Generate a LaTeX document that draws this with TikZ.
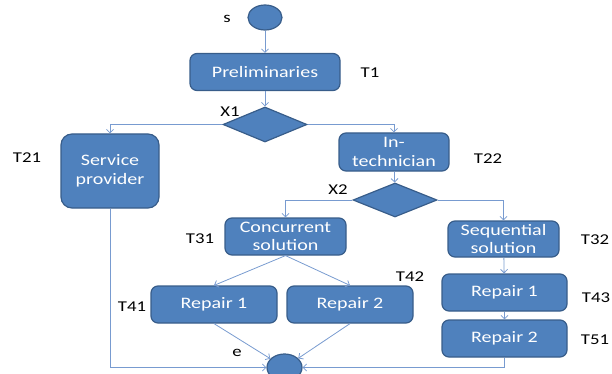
\documentclass[tikz,border=0pt]{standalone}
\usepackage{fontspec}
\setmainfont{Carlito}[FakeStretch=1.25]
\usetikzlibrary{shapes.geometric,arrows.meta}
\definecolor{boxfill}{RGB}{79,129,189}
\definecolor{boxline}{RGB}{56,93,138}
\definecolor{conn}{RGB}{120,155,208}
\tikzset{
  box/.style={draw=boxline, line width=1.2pt, fill=boxfill, rounded corners=7pt,
    text=white, align=center, inner sep=0pt, font=\fontsize{16}{18.5}\selectfont},
  term/.style={draw=boxline, line width=1.2pt, fill=boxfill, ellipse, inner sep=0pt},
  dec/.style={draw=boxline, line width=1.2pt, fill=boxfill, diamond, inner sep=0pt, aspect=2.4},
  lbl/.style={text=black, inner sep=0pt, font=\fontsize{15}{17}\selectfont},
  conn/.style={draw=conn, line width=0.8pt, -{Straight Barb[length=3.5pt,width=7pt]}},
}
\begin{document}
\begin{tikzpicture}[x=1pt,y=-1pt]
\useasboundingbox (0,0) rectangle (612,374);
% nodes
\node[term, minimum width=34pt, minimum height=25pt] (s) at (265,17.5) {};
\node[box, minimum width=150pt, minimum height=37pt] (pre) at (265,72) {Preliminaries};
\node[dec, minimum width=84pt, minimum height=35pt] (x1) at (265,124.5) {};
\node[box, rounded corners=11pt, minimum width=98pt, minimum height=74pt] (sp) at (110,171) {Service\\provider};
\node[box, minimum width=110pt, minimum height=38pt] (it) at (394,152) {In-\\technician};
\node[dec, minimum width=84pt, minimum height=34pt] (x2) at (395,200) {};
\node[box, minimum width=121pt, minimum height=37pt] (cs) at (285.5,236.5) {Concurrent\\solution};
\node[box, minimum width=111pt, minimum height=36pt] (ss) at (503.5,239) {Sequential\\solution};
\node[box, minimum width=126pt, minimum height=37pt] (r1) at (214,304.5) {Repair 1};
\node[box, minimum width=126pt, minimum height=37pt] (r2) at (350,304.5) {Repair 2};
\node[box, minimum width=125pt, minimum height=37pt] (r3) at (504.5,292.5) {Repair 1};
\node[box, minimum width=125pt, minimum height=37pt] (r4) at (504.5,338.5) {Repair 2};
\node[term, minimum width=35pt, minimum height=27pt] (e) at (284.5,367.5) {};
% labels
\node[lbl] (ls) at (227,19) {s};
\node[lbl] (l1) at (370,73) {T1};
\node[lbl] (lx1) at (230,112) {X1};
\node[lbl] (l21) at (27,158) {T21};
\node[lbl] (l22) at (488,159) {T22};
\node[lbl] (lx2) at (338,190) {X2};
\node[lbl] (l31) at (200,239) {T31};
\node[lbl] (l32) at (595,240) {T32};
\node[lbl] (l41) at (132,307) {T41};
\node[lbl] (l42) at (410,277) {T42};
\node[lbl] (l43) at (596,298) {T43};
\node[lbl] (l51) at (595,340) {T51};
\node[lbl] (le) at (237,353) {e};
% connectors
\draw[conn] (s) -- (pre);
\draw[conn] (pre) -- (x1);
\draw[conn] (x1.west) -| (sp.north);
\draw[conn] (x1.east) -| (it.north);
\draw[conn] (it) -- (x2);
\draw[conn] (x2.west) -| (cs.north);
\draw[conn] (x2.east) -| (ss.north);
\draw[conn] (cs.south) -- (r1.north);
\draw[conn] (cs.south) -- (r2.north);
\draw[conn] (ss) -- (r3);
\draw[conn] (r3) -- (r4);
\draw[conn] (r1.south) -- (e);
\draw[conn] (r2.south) -- (e);
\draw[conn] (sp.south) |- (e.west);
\draw[conn] (r4.south) |- (e.east);
\end{tikzpicture}
\end{document}
